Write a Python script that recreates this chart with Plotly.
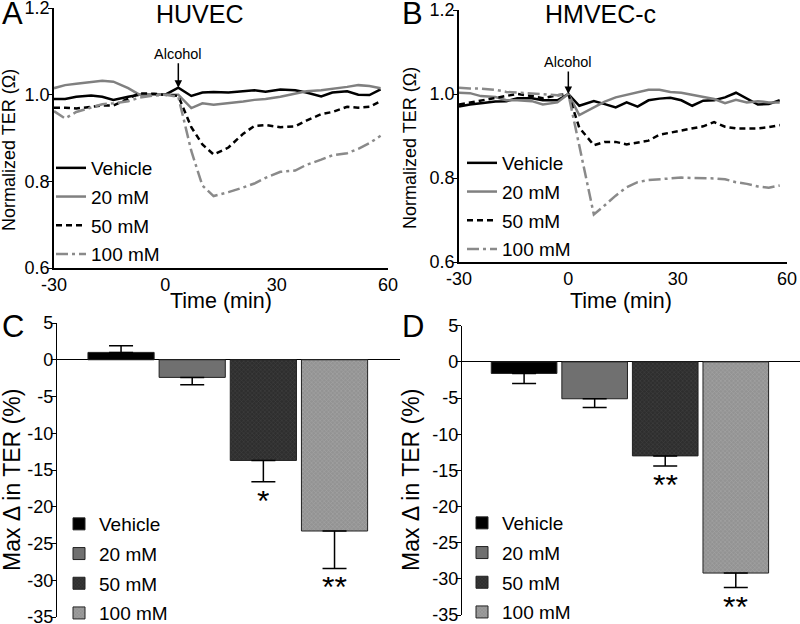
import plotly.graph_objects as go

FONT = "Liberation Sans, Arial, Helvetica, sans-serif"

# ---------------- data ----------------
SERIES = ["Vehicle", "20 mM", "50 mM", "100 mM"]

# Panel A: HUVEC normalized TER time course
TIME_A = [-30, -27, -24, -20, -17, -14, -10, -7, -3, 0, 3.5, 7, 10, 13, 17, 21, 24, 27,
          31, 35, 38, 42, 45, 49, 52, 55, 58]
HUVEC_VEHICLE = [0.990, 0.990, 0.995, 0.998, 0.995, 0.988, 0.995, 1.000, 1.000, 1.000, 1.016,
                 0.997, 1.005, 1.006, 1.005, 1.007, 1.010, 1.007, 1.012, 1.010, 1.005, 0.996,
                 1.005, 1.008, 1.000, 0.999, 1.012]
HUVEC_20 = [1.015, 1.022, 1.025, 1.030, 1.032, 1.030, 1.015, 1.000, 1.000, 1.000, 1.000,
            0.969, 0.980, 0.977, 0.980, 0.984, 0.988, 0.990, 0.995, 1.002, 1.008, 1.010,
            1.013, 1.018, 1.022, 1.020, 1.015]
HUVEC_50 = [0.970, 0.970, 0.968, 0.972, 0.975, 0.975, 0.990, 1.003, 1.002, 1.000, 0.997,
            0.925, 0.885, 0.862, 0.878, 0.910, 0.928, 0.930, 0.925, 0.927, 0.940, 0.955,
            0.960, 0.972, 0.970, 0.972, 0.985]
HUVEC_100 = [0.962, 0.945, 0.960, 0.970, 0.978, 0.980, 0.985, 0.993, 0.998, 1.000, 0.995,
             0.870, 0.790, 0.766, 0.775, 0.786, 0.795, 0.808, 0.822, 0.825, 0.838, 0.850,
             0.860, 0.865, 0.875, 0.888, 0.905]

# Panel B: HMVEC-c normalized TER time course
TIME_B = [-30, -27, -24, -20, -17, -14, -10, -7, -3, 0, 3, 7, 10, 13, 16, 19, 22, 25, 28,
          31, 34, 37, 40, 43, 46, 49, 52, 55, 58]
HMVEC_VEHICLE = [0.970, 0.975, 0.978, 0.982, 0.983, 0.990, 0.990, 0.985, 0.985, 1.000, 0.972,
                 0.983, 0.976, 0.968, 0.980, 0.970, 0.985, 0.989, 0.991, 0.985, 0.972, 0.984,
                 0.985, 0.992, 1.003, 0.988, 0.975, 0.976, 0.985]
HMVEC_20 = [1.003, 1.002, 0.995, 0.993, 0.985, 0.985, 0.983, 0.975, 0.980, 1.000, 0.950,
            0.968, 0.982, 0.992, 0.998, 1.004, 1.010, 1.010, 1.005, 1.003, 0.998, 0.993,
            0.988, 0.978, 0.986, 0.980, 0.983, 0.980, 0.980]
HMVEC_50 = [0.975, 0.980, 0.985, 0.990, 0.995, 1.000, 0.995, 0.990, 0.997, 1.000, 0.920,
            0.878, 0.886, 0.886, 0.880, 0.885, 0.889, 0.903, 0.908, 0.913, 0.918, 0.923,
            0.933, 0.922, 0.918, 0.918, 0.918, 0.921, 0.926]
HMVEC_100 = [1.015, 1.013, 1.013, 1.010, 1.005, 1.003, 1.000, 0.998, 0.997, 1.000, 0.877,
             0.713, 0.735, 0.758, 0.778, 0.790, 0.795, 0.797, 0.800, 0.801, 0.800, 0.800,
             0.799, 0.797, 0.790, 0.786, 0.780, 0.777, 0.782]

# Panels C, D: max change in TER (%)
HUVEC_MAX = [1.0, -2.4, -13.7, -23.3]
HUVEC_SEM = [0.9, 1.0, 2.9, 5.1]
HUVEC_SIG = ["", "", "*", "**"]
HMVEC_MAX = [-1.6, -5.1, -13.0, -29.2]
HMVEC_SEM = [1.4, 1.2, 1.4, 2.0]
HMVEC_SIG = ["", "", "**", "**"]

LINE_X_TICKS = [-30, 0, 30, 60]
LINE_X_LABELS = ["-30", "0", "30", "60"]
LINE_Y_TICKS = [0.6, 0.8, 1.0, 1.2]
LINE_Y_LABELS = ["0.6", "0.8", "1.0", "1.2"]
BAR_Y_TICKS = [5, 0, -5, -10, -15, -20, -25, -30, -35]
BAR_Y_LABELS = ["5", "0", "-5", "-10", "-15", "-20", "-25", "-30", "-35"]

# ---------------- styles ----------------
LINE_STYLE = {
    "Vehicle": dict(color="#000000", dash="solid"),
    "20 mM": dict(color="#808080", dash="solid"),
    "50 mM": dict(color="#000000", dash="6px,4px"),
    "100 mM": dict(color="#8a8a8a", dash="12px,4px,3px,4px"),
}
BAR_STYLE = {
    "Vehicle": dict(color="#000000", pattern=None),
    "20 mM": dict(color="#707070", pattern=None),
    "50 mM": dict(color="#2e2e2e",
                  pattern=dict(shape="x", size=3, solidity=0.3, fgcolor="#555555", bgcolor="#2e2e2e")),
    "100 mM": dict(color="#9c9c9c",
                   pattern=dict(shape="x", size=3, solidity=0.3, fgcolor="#bdbdbd", bgcolor="#939393")),
}

fig = go.Figure()

# line panels
for xa, ya, leg, t, vals in [
    ("x", "y", "legend", TIME_A, [HUVEC_VEHICLE, HUVEC_20, HUVEC_50, HUVEC_100]),
    ("x2", "y2", "legend2", TIME_B, [HMVEC_VEHICLE, HMVEC_20, HMVEC_50, HMVEC_100]),
]:
    for name, v in zip(SERIES, vals):
        st = LINE_STYLE[name]
        fig.add_trace(go.Scatter(
            x=t, y=v, mode="lines", name=name, legend=leg, legendgroup=leg + name,
            line=dict(color=st["color"], dash=st["dash"], width=2.5),
            xaxis=xa, yaxis=ya, hoverinfo="skip"))

# bar panels
for xa, ya, leg, means, sems in [
    ("x3", "y3", "legend3", HUVEC_MAX, HUVEC_SEM),
    ("x4", "y4", "legend4", HMVEC_MAX, HMVEC_SEM),
]:
    for name, m, s in zip(SERIES, means, sems):
        st = BAR_STYLE[name]
        marker = dict(color=st["color"], line=dict(color="#222222", width=1))
        if st["pattern"]:
            marker["pattern"] = st["pattern"]
        fig.add_trace(go.Bar(
            x=[name], y=[m], width=[0.93], name=name, legend=leg, legendgroup=leg + name,
            marker=marker, xaxis=xa, yaxis=ya, hoverinfo="skip",
            error_y=dict(type="data", symmetric=False,
                         array=[s if m > 0 else 0], arrayminus=[0 if m > 0 else s],
                         color="black", thickness=1.5, width=12)))

annotations = []
for xa, ya, means, sems, sig in [
    ("x3", "y3", HUVEC_MAX, HUVEC_SEM, HUVEC_SIG),
    ("x4", "y4", HMVEC_MAX, HMVEC_SEM, HMVEC_SIG),
]:
    for name, m, s, g in zip(SERIES, means, sems, sig):
        if g:
            annotations.append(dict(
                x=name, y=m - s, xref=xa, yref=ya, text=g, showarrow=False,
                yanchor="top", yshift=-7, height=20, valign="middle",
                font=dict(size=32, color="black", family=FONT)))

# Alcohol arrows
annotations.append(dict(x=3.5, y=1.016, xref="x", yref="y", text="Alcohol",
                        showarrow=True, arrowhead=2, arrowsize=1, arrowwidth=1.5,
                        arrowcolor="black", ax=0, ay=-34,
                        font=dict(size=14.5, color="black", family=FONT)))
annotations.append(dict(x=0, y=1.0, xref="x2", yref="y2", text="Alcohol",
                        showarrow=True, arrowhead=2, arrowsize=1, arrowwidth=1.5,
                        arrowcolor="black", ax=0, ay=-32,
                        font=dict(size=14.5, color="black", family=FONT)))


def paper_text(text, px, py, size, angle=0, xanchor="center"):
    return dict(x=px / 800, y=1 - py / 624, xref="paper", yref="paper", text=text,
                showarrow=False, xanchor=xanchor, yanchor="middle", textangle=angle,
                font=dict(size=size, color="black", family=FONT))


# panel titles
annotations.append(paper_text("HUVEC", 200, 14, 25))
annotations.append(paper_text("HMVEC-c", 600, 14, 25))
# axis titles
annotations.append(paper_text("Time (min)", 221, 301, 21.5))
annotations.append(paper_text("Time (min)", 621, 301, 21.5))
annotations.append(paper_text("Normalized TER (Ω)", 9, 150, 18, angle=-90))
annotations.append(paper_text("Normalized TER (Ω)", 410, 148, 18, angle=-90))
annotations.append(paper_text("Max Δ in TER (%)", 12, 480, 23, angle=-90))
annotations.append(paper_text("Max Δ in TER (%)", 411, 480, 23, angle=-90))
# panel letters
for letter, px, py in [("A", 0, 13), ("B", 400, 13), ("C", 0, 326), ("D", 400, 326)]:
    annotations.append(paper_text(letter, px, py, 31, xanchor="left"))

tick_font = dict(size=18, color="black", family=FONT)


def line_x(domain, anchor):
    return dict(domain=domain, anchor=anchor, range=[-30, 60], tickvals=LINE_X_TICKS,
                ticktext=LINE_X_LABELS, automargin=False, ticklabeloverflow="allow",
                showline=True, linecolor="black", linewidth=1.5, ticks="",
                showgrid=False, zeroline=False, tickfont=tick_font)


def line_y(domain, anchor):
    return dict(domain=domain, anchor=anchor, range=[0.6, 1.2], tickvals=LINE_Y_TICKS,
                ticktext=LINE_Y_LABELS, automargin=False, ticklabeloverflow="allow",
                showline=True, linecolor="black", linewidth=1.5, ticklabelstandoff=-5,
                ticks="outside", ticklen=4, tickcolor="black", showgrid=False, zeroline=False,
                tickfont=tick_font)


def bar_x(domain, anchor, rng):
    return dict(domain=domain, anchor=anchor, type="category", categoryorder="array",
                categoryarray=SERIES, range=rng, visible=False, automargin=False)


def bar_y(domain, anchor):
    return dict(domain=domain, anchor=anchor, range=[-35, 5], tickvals=BAR_Y_TICKS,
                ticktext=BAR_Y_LABELS, automargin=False, ticklabeloverflow="allow",
                showline=True, linecolor="black", linewidth=1.2, ticklabelstandoff=-6,
                ticks="outside", ticklen=5,
                tickcolor="black", showgrid=False, zeroline=True, zerolinecolor="black",
                zerolinewidth=1.2, tickfont=tick_font)


legend_common = dict(bgcolor="rgba(0,0,0,0)", borderwidth=0, xanchor="left", yanchor="top",
                     traceorder="grouped", itemwidth=30,
                     font=dict(size=19, color="black", family=FONT))

fig.update_layout(
    width=800, height=624, autosize=False,
    margin=dict(l=0, r=0, t=0, b=0, autoexpand=False),
    paper_bgcolor="white", plot_bgcolor="white",
    font=dict(family=FONT, color="black"),
    barmode="overlay",
    xaxis=line_x([54 / 800, 388 / 800], "y"),
    yaxis=line_y([1 - 268 / 624, 1 - 8 / 624], "x"),
    xaxis2=line_x([459 / 800, 787 / 800], "y2"),
    yaxis2=line_y([1 - 262 / 624, 1 - 10 / 624], "x2"),
    xaxis3=bar_x([57 / 800, 400 / 800], "y3", [-0.9, 3.92]),
    yaxis3=bar_y([1 - 617 / 624, 1 - 323 / 624], "x3"),
    xaxis4=bar_x([462 / 800, 800 / 800], "y4", [-0.88, 3.91]),
    yaxis4=bar_y([1 - 615 / 624, 1 - 325.7 / 624], "x4"),
    legend=dict(x=51 / 800, y=1 - 149 / 624, tracegroupgap=1, **legend_common),
    legend2=dict(x=462 / 800, y=1 - 144 / 624, tracegroupgap=1, **legend_common),
    legend3=dict(x=59 / 800, y=1 - 505 / 624, tracegroupgap=2, **legend_common),
    legend4=dict(x=462 / 800, y=1 - 504 / 624, tracegroupgap=2, **legend_common),
    annotations=annotations,
    showlegend=True,
)

fig.write_html("out.html", config={"displayModeBar": False},
               post_script="document.body.style.margin='0px';")
